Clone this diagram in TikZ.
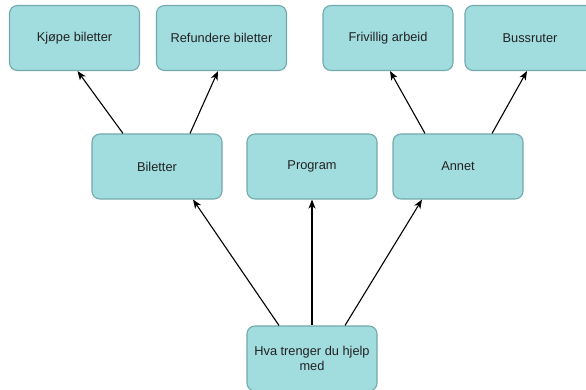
\documentclass[tikz,border=0pt]{standalone}
\usepackage{fontspec}
\setmainfont{Liberation Sans}
\usetikzlibrary{arrows.meta,calc}
\definecolor{boxfill}{HTML}{A1DCDF}
\definecolor{boxline}{HTML}{72A9AC}
\definecolor{txt}{HTML}{222222}
\begin{document}
\begin{tikzpicture}[x=1pt,y=-1pt,
  box/.style={draw=boxline,fill=boxfill,line width=1.1pt,rounded corners=8pt,
    minimum width=130pt,minimum height=65pt,inner sep=0pt,align=center,
    font=\fontsize{12.8}{15}\selectfont,text=txt},
  link/.style={draw=black,line width=1.1pt,-{Stealth[length=9pt,width=7pt,inset=2.5pt]}}]
\useasboundingbox (0,0) rectangle (586,390);
\node[box] (kjop) at (74.5,38) {Kjøpe biletter};
\node[box] (ref) at (221.5,38) {Refundere biletter};
\node[box] (fri) at (388,38) {Frivillig arbeid};
\node[box] (buss) at (530,38) {Bussruter};
\node[box] (bil) at (157,166.5) {Biletter};
\node[box] (prog) at (312,166.5) {Program};
\node[box] (ann) at (458,166.5) {Annet};
\node[box] (hva) at (312,358.5) {Hva trenger du hjelp\\med};
\draw[link] ([xshift=-34pt]bil.north) -- ([xshift=3pt]kjop.south);
\draw[link] ([xshift=33pt]bil.north) -- ([xshift=-3.5pt]ref.south);
\draw[link] ([xshift=-33pt]ann.north) -- ([xshift=2pt]fri.south);
\draw[link] ([xshift=34pt]ann.north) -- ([xshift=-3pt]buss.south);
\draw[link] ([xshift=-33pt]hva.north) -- ([xshift=36pt]bil.south);
\draw[link] (hva.north) -- (prog.south);
\draw[link] ([xshift=33pt]hva.north) -- ([xshift=-36pt]ann.south);
\end{tikzpicture}
\end{document}
